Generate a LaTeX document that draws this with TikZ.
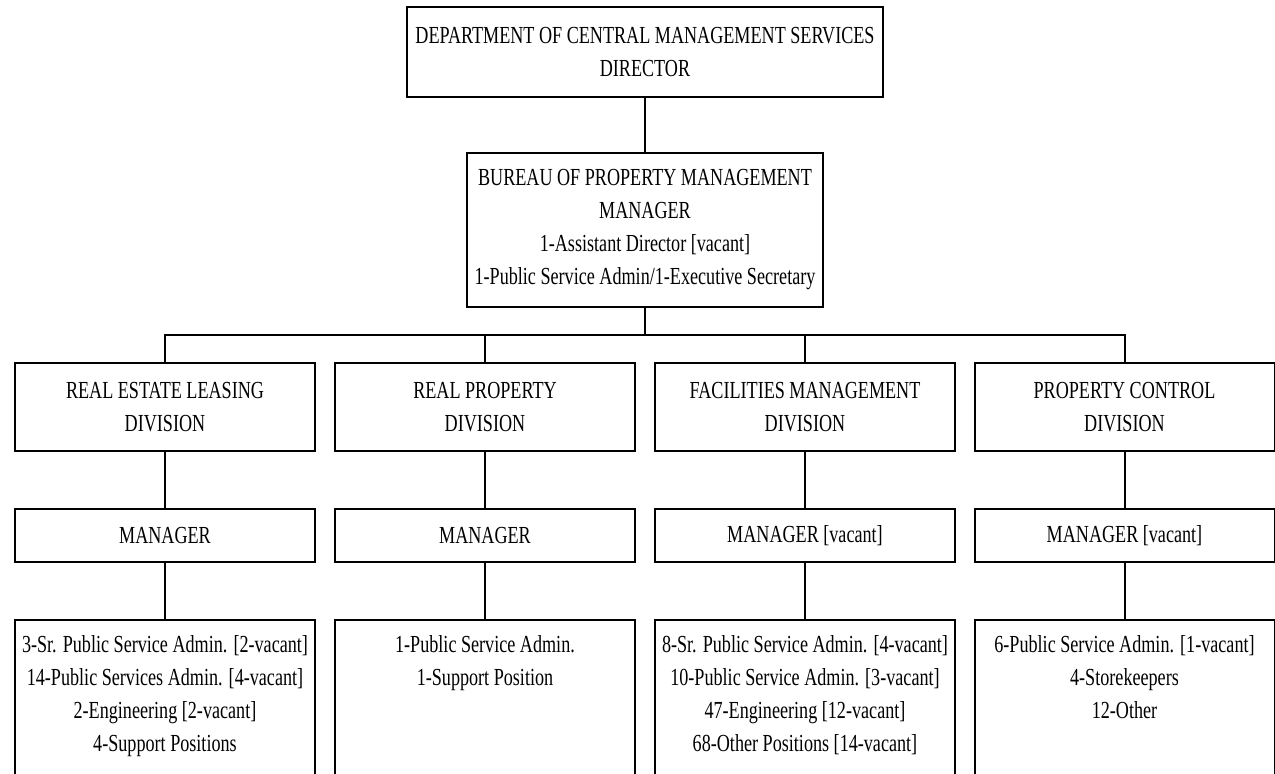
\documentclass[tikz,border=0pt]{standalone}
\usepackage{fontspec}
\setmainfont{Liberation Serif}[FakeStretch=0.74]
\begin{document}
\begin{tikzpicture}[x=1pt,y=-1pt,
  every node/.style={font=\fontsize{24.5}{33}\selectfont},
  orgbox/.style={draw=black, line width=2pt, align=center, inner sep=0pt, minimum width=#1},
  orgbox/.default=300pt,
  txt/.style={align=center, inner sep=0pt},
  link/.style={draw=black, line width=2pt}]
\useasboundingbox (0,0) rectangle (1275,774);
\clip (0,0) rectangle (1275,774);
% top
\node[orgbox=476pt, minimum height=90pt] (top) at (645,52) {DEPARTMENT OF CENTRAL MANAGEMENT SERVICES\\DIRECTOR};
\node[orgbox=356pt, minimum height=154pt] (bur) at (645,230) {BUREAU OF PROPERTY MANAGEMENT\\MANAGER\\1-Assistant Director [vacant]\\1-Public Service Admin/1-Executive Secretary};
% divisions
\node[orgbox, minimum height=88pt] (d1) at (165,407) {REAL ESTATE LEASING\\DIVISION};
\node[orgbox, minimum height=88pt] (d2) at (485,407) {REAL PROPERTY\\DIVISION};
\node[orgbox, minimum height=88pt] (d3) at (805,407) {FACILITIES MANAGEMENT\\DIVISION};
\node[orgbox, minimum height=88pt] (d4) at (1124.5,407) {PROPERTY CONTROL\\DIVISION};
% managers
\node[orgbox, minimum height=53pt] (m1) at (165,535.5) {MANAGER};
\node[orgbox, minimum height=53pt] (m2) at (485,535.5) {MANAGER};
\node[orgbox, minimum height=53pt] (m3) at (805,535.5) {MANAGER [vacant]};
\node[orgbox, minimum height=53pt] (m4) at (1124.5,535.5) {MANAGER [vacant]};
% bottom boxes
\node[orgbox, minimum height=180pt, anchor=north] (b1) at (165,619) {};
\node[orgbox, minimum height=180pt, anchor=north] (b2) at (485,619) {};
\node[orgbox, minimum height=180pt, anchor=north] (b3) at (805,619) {};
\node[orgbox, minimum height=180pt, anchor=north] (b4) at (1124.5,619) {};
\node[txt, anchor=north] (t1) at ([yshift=-16pt]b1.north) {3-Sr. Public Service Admin. [2-vacant]\\14-Public Services Admin. [4-vacant]\\2-Engineering [2-vacant]\\4-Support Positions};
\node[txt, anchor=north] (t2) at ([yshift=-16pt]b2.north) {1-Public Service Admin.\\1-Support Position};
\node[txt, anchor=north] (t3) at ([yshift=-16pt]b3.north) {8-Sr. Public Service Admin. [4-vacant]\\10-Public Service Admin. [3-vacant]\\47-Engineering [12-vacant]\\68-Other Positions [14-vacant]};
\node[txt, anchor=north] (t4) at ([yshift=-16pt]b4.north) {6-Public Service Admin. [1-vacant]\\4-Storekeepers\\12-Other};
% connectors
\coordinate (bus) at (645,335);
\draw[link] (top.south) -- (bur.north);
\draw[link] (bur.south) -- (bus);
\draw[link] (d1.north) -- (d1.north |- bus) -- (d4.north |- bus) -- (d4.north);
\draw[link] (d2.north) -- (d2.north |- bus);
\draw[link] (d3.north) -- (d3.north |- bus);
\foreach \i in {1,2,3,4} {
  \draw[link] (d\i.south) -- (m\i.north);
  \draw[link] (m\i.south) -- (b\i.north);
}
\end{tikzpicture}
\end{document}
